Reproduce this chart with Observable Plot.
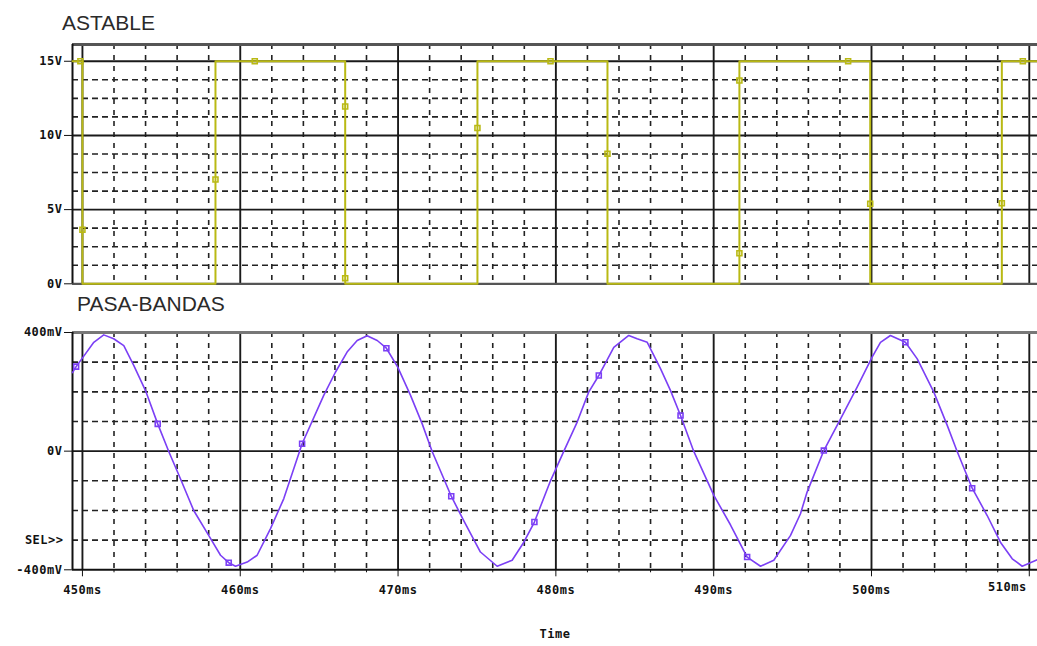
<!DOCTYPE html>
<html><head><meta charset="utf-8">
<script src="https://cdn.jsdelivr.net/npm/d3@7"></script>
<script src="https://cdn.jsdelivr.net/npm/@observablehq/plot@0.6"></script>
<style>
html,body{margin:0;padding:0;background:#fff;overflow:hidden;}
#wrap{position:relative;width:1037px;height:646px;}
.panel{position:absolute;left:0;}
.title{position:absolute;font-family:"Liberation Sans",Arial,sans-serif;font-size:21px;line-height:21px;color:#2a2a2a;white-space:nowrap;z-index:2;}
</style></head>
<body><div id="wrap"></div>
<script>
// ---- axes / ticks ----
const xDomain = [449.37, 510.52];
const timeMajor = [450, 460, 470, 480, 490, 500, 510];
const timeLabels = ["450ms", "460ms", "470ms", "480ms", "490ms", "500ms", "510ms"];
const timeMinor = [452, 454, 456, 458, 462, 464, 466, 468, 472, 474, 476, 478, 482, 484, 486, 488, 492, 494, 496, 498, 502, 504, 506, 508];
const xTitle = ["Time"];

const astableTitle = "ASTABLE";
const astableDomain = [0, 16.13];
const astableMajor = [0, 5, 10, 15];
const astableLabels = ["0V", "5V", "10V", "15V"];
const astableMinor = [1.25, 2.5, 3.75, 6.25, 7.5, 8.75, 11.25, 12.5, 13.75];

const bandTitle = "PASA-BANDAS";
const bandDomain = [-400, 400];
const bandMajor = [-400, 0, 400];
const bandLabels = ["-400mV", "0V", "400mV"];
const bandMinor = [-300, -200, -100, 100, 200, 300];
const selLabel = ["SEL>>"];
const selLevel = [-300];

// ---- ASTABLE trace (ms, V) ----
const astableT = [449.37, 450.0, 450.0, 458.43, 458.43, 466.65, 466.65, 475.03, 475.03, 483.27, 483.27, 491.63, 491.63, 499.92, 499.92, 508.26, 508.26, 510.52];
const astableV = [15, 15, 0, 0, 15, 15, 0, 0, 15, 15, 0, 0, 15, 15, 0, 0, 15, 15];
const astableMarkT = [449.87, 450.0, 458.43, 460.92, 466.65, 466.65, 475.03, 479.66, 483.27, 491.63, 491.63, 498.52, 499.92, 508.26, 509.59];
const astableMarkV = [15, 3.64, 7.03, 15, 11.95, 0.38, 10.5, 15, 8.77, 13.7, 2.06, 15, 5.39, 5.43, 15];

// ---- PASA-BANDAS trace (ms, mV) ----
const bandT = [449.37, 449.6, 450.04, 450.72, 451.35, 451.98, 452.62, 453.25, 453.99, 454.77, 455.47, 456.21, 457.05, 458.00, 458.75, 459.27, 459.70, 460.44, 461.07, 461.91, 462.76, 463.92, 465.29, 466.03, 466.77, 467.41, 468.04, 468.68, 469.26, 469.98, 470.79, 471.53, 472.16, 472.90, 473.37, 474.16, 475.22, 476.28, 477.23, 477.97, 478.64, 479.66, 480.50, 481.35, 482.08, 482.72, 483.67, 484.62, 485.15, 485.79, 486.63, 487.26, 487.90, 488.74, 490.01, 491.07, 492.12, 492.97, 493.81, 494.87, 495.50, 495.92, 496.98, 498.04, 499.09, 500.04, 500.57, 501.20, 502.15, 502.90, 503.95, 504.80, 505.43, 506.38, 507.33, 508.17, 508.92, 509.55, 510.52];
const bandV = [265, 285, 317, 367, 392, 379, 356, 289, 205, 92, -1, -93, -200, -284, -351, -376, -388, -374, -351, -262, -160, 25, 188, 266, 334, 373, 389, 373, 347, 283, 188, 92, -1, -93, -152, -234, -340, -388, -368, -307, -239, -100, -1, 98, 199, 255, 350, 390, 379, 367, 278, 205, 120, -1, -149, -249, -357, -388, -368, -284, -211, -138, 2, 109, 216, 317, 367, 390, 367, 311, 199, 87, -1, -125, -217, -307, -363, -388, -366];
const bandMarkT = [449.6, 454.77, 459.27, 463.92, 469.26, 473.37, 478.64, 482.72, 487.90, 492.12, 496.98, 502.15, 506.38];
const bandMarkV = [285, 92, -376, 25, 347, -152, -239, 255, 120, -357, 2, 367, -125];

const yellow = "#b9b914";
const violet = "#7b3ff5";

const astableData = astableT.map((t, i) => ({t, v: astableV[i]}));
const astableMarks = astableMarkT.map((t, i) => ({t, v: astableMarkV[i]}));
const bandData = bandT.map((t, i) => ({t, v: bandV[i]}));
const bandMarks = bandMarkT.map((t, i) => ({t, v: bandMarkV[i]}));
const astableMap = new Map(astableMajor.map((d, i) => [d, astableLabels[i]]));
const bandMap = new Map(bandMajor.map((d, i) => [d, bandLabels[i]]));
const timeMap = new Map(timeMajor.map((d, i) => [d, timeLabels[i]]));
const lastTick = timeMajor.slice(-1);
const innerTicks = timeMajor.slice(0, -1);

const axisStyle = {fontFamily: "'DejaVu Sans Mono', monospace", fontSize: "12px", fontWeight: "bold", color: "#111", background: "transparent", overflow: "visible", letterSpacing: "0.5px"};
const minorH = {stroke: "#222", strokeWidth: 1.6, strokeDasharray: "6,4"};
const minorV = {stroke: "#222", strokeWidth: 1.6, strokeDasharray: "5,6"};
const majorLine = {stroke: "#1a1a1a", strokeWidth: 1.9};

const topPlot = Plot.plot({
  width: 1037, height: 290,
  marginLeft: 72, marginRight: 0, marginTop: 44, marginBottom: 6.7,
  style: axisStyle,
  x: {domain: xDomain, axis: null},
  y: {domain: astableDomain, axis: null},
  marks: [
    Plot.ruleY(astableMinor, minorH),
    Plot.ruleX(timeMinor, minorV),
    Plot.ruleX(timeMajor, majorLine),
    Plot.ruleY(astableMajor.slice(1), majorLine),
    Plot.ruleY([astableDomain[1]], {stroke: "#555", strokeWidth: 2.8}),
    Plot.ruleY([astableDomain[0]], {stroke: "#555", strokeWidth: 2.2}),
    Plot.ruleX([xDomain[0]], {stroke: "#111", strokeWidth: 2}),
    Plot.axisY({ticks: astableMajor, tickFormat: d => astableMap.get(d), tickSize: 8, tickPadding: 2, anchor: "left", label: null}),
    Plot.line(astableData, {x: "t", y: "v", stroke: yellow, strokeWidth: 2}),
    Plot.dot(astableMarks, {x: "t", y: "v", symbol: "square", r: 2.8, stroke: yellow, fill: "none", strokeWidth: 1.6})
  ]
});

const bottomPlot = Plot.plot({
  width: 1037, height: 356,
  marginLeft: 72, marginRight: 0, marginTop: 42, marginBottom: 76.7,
  style: axisStyle,
  x: {domain: xDomain, axis: null},
  y: {domain: bandDomain, axis: null},
  marks: [
    Plot.ruleY(bandMinor, minorH),
    Plot.ruleX(timeMinor, minorV),
    Plot.ruleX(timeMajor, majorLine),
    Plot.ruleY([0], majorLine),
    Plot.ruleY([bandDomain[1]], {stroke: "#777", strokeWidth: 3}),
    Plot.ruleY([bandDomain[0]], {stroke: "#111", strokeWidth: 2}),
    Plot.ruleX([xDomain[0]], {stroke: "#111", strokeWidth: 2}),
    Plot.axisY({ticks: bandMajor, tickFormat: d => bandMap.get(d), tickSize: 8, tickPadding: 2, anchor: "left", label: null}),
    Plot.text(selLabel, {y: (d, i) => selLevel[i], text: d => d, frameAnchor: "left", textAnchor: "end", dx: -9}),
    Plot.axisX({ticks: timeMinor, tickSize: 3, tickFormat: () => "", anchor: "bottom", label: null}),
    Plot.axisX({ticks: innerTicks, tickFormat: d => timeMap.get(d), tickSize: 7, tickPadding: 9, anchor: "bottom", label: null}),
    Plot.axisX({ticks: lastTick, tickSize: 7, anchor: "bottom", label: null, tickFormat: () => ""}),
    Plot.text(lastTick, {x: d => d, text: d => timeMap.get(d), frameAnchor: "bottom", dy: 21, dx: -22}),
    Plot.text(xTitle, {text: d => d, frameAnchor: "bottom", dy: 68}),
    Plot.line(bandData, {x: "t", y: "v", stroke: violet, strokeWidth: 1.6}),
    Plot.dot(bandMarks, {x: "t", y: "v", symbol: "square", r: 2.8, stroke: violet, fill: "none", strokeWidth: 1.6})
  ]
});

const wrap = document.getElementById("wrap");
const p1 = document.createElement("div"); p1.className = "panel"; p1.style.top = "0px"; p1.appendChild(topPlot);
const p2 = document.createElement("div"); p2.className = "panel"; p2.style.top = "290px"; p2.appendChild(bottomPlot);
wrap.appendChild(p1); wrap.appendChild(p2);
const t1 = document.createElement("div"); t1.className = "title"; t1.style.left = "62px"; t1.style.top = "12px"; t1.textContent = astableTitle;
const t2 = document.createElement("div"); t2.className = "title"; t2.style.left = "77px"; t2.style.top = "293px"; t2.textContent = bandTitle;
wrap.appendChild(t1); wrap.appendChild(t2);
</script>
</body></html>
